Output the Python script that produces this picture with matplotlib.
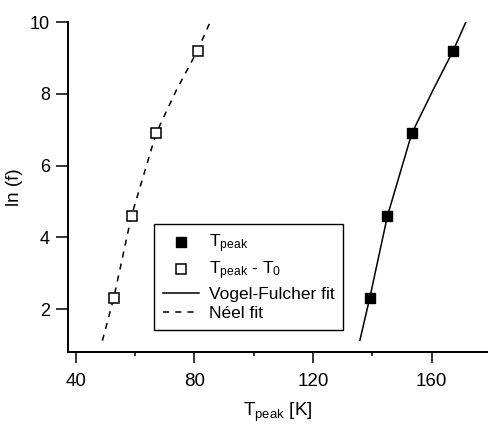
import matplotlib
matplotlib.use("Agg")
import matplotlib.pyplot as plt
from matplotlib.ticker import MultipleLocator

plt.rcParams['font.family'] = ['Liberation Sans', 'DejaVu Sans']
plt.rcParams['mathtext.fontset'] = 'custom'
plt.rcParams['mathtext.rm'] = 'Liberation Sans'
plt.rcParams['mathtext.it'] = 'Liberation Sans:italic'

# data
ln_f = [2.3, 4.6, 6.9, 9.2]
t_peak = [139.1, 145.1, 153.3, 167.3]
t_peak_minus_t0 = [52.9, 58.9, 67.2, 81.2]

# fit curves
vf_fit_t = [135.8, 139.1, 145.1, 153.3, 160.4, 167.2, 171.5]
vf_fit_y = [1.13, 2.3, 4.6, 6.9, 8.1, 9.2, 10.0]
neel_fit_t = [49.0, 52.8, 58.8, 67.1, 73.9, 81.0, 85.3]
neel_fit_y = [1.12, 2.3, 4.6, 6.9, 8.1, 9.2, 10.0]

fig = plt.figure(figsize=(4.89, 4.28), dpi=100)
ax = fig.add_axes([0.139, 0.178, 0.859, 0.770])

ax.plot(t_peak, ln_f, linestyle='none', marker='s', markersize=6.5,
        color='black', label=r'$\mathregular{T_{peak}}$')
ax.plot(t_peak_minus_t0, ln_f, linestyle='none', marker='s', markersize=7,
        markerfacecolor='white', markeredgecolor='black', markeredgewidth=1.1,
        label=r'$\mathregular{T_{peak}}$ - $\mathregular{T_0}$')
ax.plot(vf_fit_t, vf_fit_y, color='black', linewidth=1.1, label='Vogel-Fulcher fit', zorder=1)
ax.plot(neel_fit_t, neel_fit_y, color='black', linewidth=1.1, linestyle=(0, (4, 4)),
        label='Néel fit', zorder=1)

ax.set_xlim(37.4, 179)
ax.set_ylim(0.81, 10)
ax.xaxis.set_major_locator(MultipleLocator(40))
ax.xaxis.set_minor_locator(MultipleLocator(20))
ax.yaxis.set_major_locator(MultipleLocator(2))

for s in ['top', 'right']:
    ax.spines[s].set_visible(False)
for s in ['left', 'bottom']:
    ax.spines[s].set_linewidth(1.4)

ax.tick_params(axis='x', which='major', direction='out', length=8, width=1.1,
               labelsize=13.5, pad=7)
ax.tick_params(axis='x', which='minor', direction='out', length=3, width=1.1)
ax.tick_params(axis='y', which='major', direction='out', length=9, width=1.1,
               labelsize=13, pad=4)

ax.set_xlabel(r'$\mathregular{T_{peak}}$ [K]', fontsize=13.5, labelpad=8)
ax.set_ylabel('ln (f)', fontsize=13.5, labelpad=5)

leg = ax.legend(loc='lower left', bbox_to_anchor=(0.205, 0.066), borderaxespad=0,
                fontsize=12.5, frameon=True, fancybox=False, framealpha=1,
                edgecolor='black', handlelength=2.1, handletextpad=0.55,
                labelspacing=0.25, borderpad=0.5)
leg.get_frame().set_linewidth(1.0)

fig.savefig('out.png', dpi=100)
